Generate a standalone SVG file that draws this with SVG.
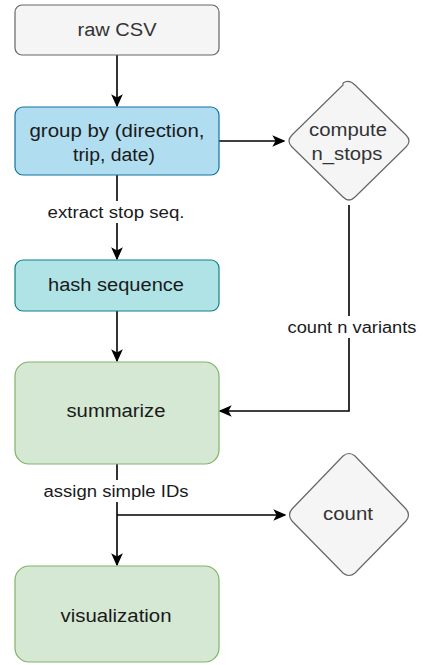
<svg xmlns="http://www.w3.org/2000/svg" width="423" height="665" viewBox="0 0 423 665">
<defs>
<marker id="arr" viewBox="0 0 10 10" refX="9" refY="5" markerWidth="13" markerHeight="13" markerUnits="userSpaceOnUse" orient="auto">
<path d="M0,0.5 L10,5 L0,9.5 L2.5,5 Z" fill="#000"/>
</marker>
</defs>
<style>
text{font-family:"Liberation Sans",Arial,sans-serif;text-anchor:middle;dominant-baseline:central}
.n{font-size:18px;fill:#1a1a1a}
.g{font-size:18px;fill:#333}
.l{font-size:16px;fill:#1a1a1a}
.c{fill:none;stroke:#000;stroke-width:1.6}
.lb{fill:#fff}
</style>
<rect width="423" height="665" fill="#fff"/>
<g id="connectors">
<path class="c" d="M117,55 V106" marker-end="url(#arr)"/>
<path class="c" d="M219,141 H284" marker-end="url(#arr)"/>
<path class="c" d="M117,175 V259" marker-end="url(#arr)"/>
<path class="c" d="M117,311 V361" marker-end="url(#arr)"/>
<path class="c" d="M349,205 V411 H220" marker-end="url(#arr)"/>
<path class="c" d="M117,464 V565" marker-end="url(#arr)"/>
<path class="c" d="M117,515 H285" marker-end="url(#arr)"/>
<rect class="lb" x="44" y="201" width="146" height="22"/>
<text class="l" x="116" y="212" textLength="137" lengthAdjust="spacingAndGlyphs">extract stop seq.</text>
<rect class="lb" x="284" y="316" width="137" height="22"/>
<text class="l" x="352" y="327" textLength="129" lengthAdjust="spacingAndGlyphs">count n variants</text>
<rect class="lb" x="40" y="480" width="152" height="22"/>
<text class="l" x="116" y="491" textLength="145" lengthAdjust="spacingAndGlyphs">assign simple IDs</text>
</g>
<g id="raw_csv">
<rect x="15" y="5" width="204" height="50" rx="7" fill="#f5f5f5" stroke="#666" stroke-width="1.2"/>
<text class="g" x="117" y="30" textLength="79" lengthAdjust="spacingAndGlyphs">raw CSV</text>
</g>
<g id="group_by">
<rect x="15" y="107" width="204" height="68" rx="8" fill="#b1ddf0" stroke="#10739e" stroke-width="1.2"/>
<text class="n" x="117" y="131" textLength="175" lengthAdjust="spacingAndGlyphs">group by (direction,</text>
<text class="n" x="114" y="155" textLength="82" lengthAdjust="spacingAndGlyphs">trip, date)</text>
</g>
<g id="compute_n_stops">
<path d="M343,83 Q349,79 355,85 L406,135 Q412,141 406,147 L355,197 Q349,203 343,197 L292,147 Q286,141 292,135 L343,85 Z" fill="#f5f5f5" stroke="#666" stroke-width="1.2"/>
<text class="g" x="348" y="130" textLength="78" lengthAdjust="spacingAndGlyphs">compute</text>
<text class="g" x="347" y="154" textLength="71" lengthAdjust="spacingAndGlyphs">n_stops</text>
</g>
<g id="hash_sequence">
<rect x="15" y="260" width="204" height="51" rx="8" fill="#b0e3e6" stroke="#0e8088" stroke-width="1.2"/>
<text class="n" x="116" y="285" textLength="136" lengthAdjust="spacingAndGlyphs">hash sequence</text>
</g>
<g id="summarize">
<rect x="15" y="362" width="204" height="102" rx="14" fill="#d5e8d4" stroke="#82b366" stroke-width="1.2"/>
<text class="n" x="116" y="411" textLength="99" lengthAdjust="spacingAndGlyphs">summarize</text>
</g>
<g id="count">
<path d="M343,456 Q349,451 355,456 L406,509 Q411,515 406,521 L355,573 Q349,578 343,573 L292,521 Q287,515 292,509 Z" fill="#f5f5f5" stroke="#666" stroke-width="1.2"/>
<text class="g" x="348" y="514" textLength="50" lengthAdjust="spacingAndGlyphs">count</text>
</g>
<g id="visualization">
<rect x="15" y="566" width="204" height="96" rx="14" fill="#d5e8d4" stroke="#82b366" stroke-width="1.2"/>
<text class="n" x="116" y="616" textLength="111" lengthAdjust="spacingAndGlyphs">visualization</text>
</g>
</svg>
